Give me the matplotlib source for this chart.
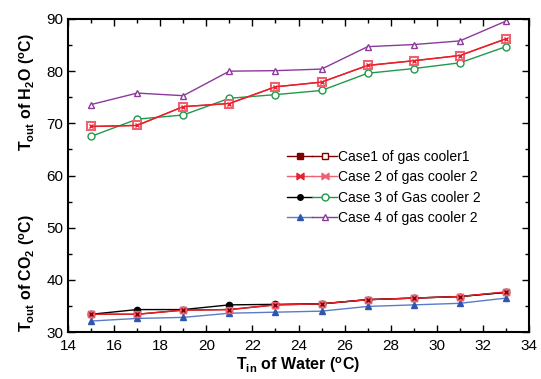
import matplotlib
matplotlib.use("Agg")
import matplotlib.pyplot as plt
from matplotlib.lines import Line2D
from matplotlib.legend_handler import HandlerTuple
from matplotlib.ticker import MultipleLocator

plt.rcParams['font.family'] = ['Liberation Sans', 'DejaVu Sans']
plt.rcParams['mathtext.fontset'] = 'custom'
plt.rcParams['mathtext.rm'] = 'Liberation Sans'
plt.rcParams['mathtext.bf'] = 'Liberation Sans:bold'
plt.rcParams['mathtext.default'] = 'bf'

t_water = [15, 17, 19, 21, 23, 25, 27, 29, 31, 33]

# CO2 outlet (lower, filled markers)
case1_co2 = [33.4, 33.4, 34.2, 34.3, 35.2, 35.4, 36.2, 36.5, 36.8, 37.6]
case2_co2 = [33.4, 33.4, 34.2, 34.3, 35.2, 35.4, 36.2, 36.5, 36.8, 37.7]
case3_co2 = [33.4, 34.3, 34.3, 35.2, 35.3, 35.4, 36.2, 36.5, 36.8, 37.6]
case4_co2 = [32.1, 32.6, 32.8, 33.6, 33.8, 34.0, 34.9, 35.2, 35.5, 36.5]

# H2O outlet (upper, open markers)
case1_h2o = [69.4, 69.6, 73.2, 73.8, 77.0, 77.9, 81.1, 82.0, 83.0, 86.2]
case2_h2o = [69.4, 69.6, 73.2, 73.8, 77.0, 77.9, 81.1, 82.0, 83.0, 86.2]
case3_h2o = [67.5, 70.8, 71.6, 74.8, 75.5, 76.3, 79.6, 80.5, 81.6, 84.7]
case4_h2o = [73.6, 75.8, 75.3, 80.0, 80.1, 80.4, 84.7, 85.1, 85.8, 89.6]

labels = ['Case1 of gas cooler1', 'Case 2 of gas cooler 2',
          'Case 3 of Gas cooler 2', 'Case 4 of gas cooler 2']

fig = plt.figure(figsize=(5.41, 3.79), dpi=100)
ax = fig.add_axes([68/541, 1-332/379, (529-68)/541, (332-19)/379])

c_dred = '#800000'
c_red = '#e8202a'
c_pink = '#f06070'
c_green = '#1f9a4a'
c_purple = '#8a3a9a'
c_blue = '#2e56b0'
c_lblue = '#5a7cc8'

ms = 5.0
lw = 1.0

# lower series
l1a, = ax.plot(t_water, case1_co2, color=c_dred, lw=lw, marker='s', ms=ms, mfc=c_dred, mec=c_dred)
l3a, = ax.plot(t_water, case3_co2, color='black', lw=lw, marker='o', ms=4.5, mfc='black', mec='black')
l4a, = ax.plot(t_water, case4_co2, color=c_lblue, lw=lw, marker='^', ms=ms, mfc=c_blue, mec=c_blue)
l2a, = ax.plot(t_water, case2_co2, color=c_red, lw=lw, marker='s', ms=ms, mfc=c_pink, mec=c_pink)
ax.plot(t_water, case2_co2, ls='none', marker='x', ms=3.2, mec=c_dred, mew=1.0)

# upper series
l4b, = ax.plot(t_water, case4_h2o, color=c_purple, lw=lw, marker='^', ms=ms, mfc='white', mec=c_purple)
l3b, = ax.plot(t_water, case3_h2o, color=c_green, lw=lw, marker='o', ms=ms, mfc='white', mec=c_green)
l1b, = ax.plot(t_water, case1_h2o, color=c_red, lw=lw, marker='s', ms=ms+0.5, mfc='white', mec=c_pink, mew=1.5)
l2b, = ax.plot(t_water, case2_h2o, color=c_red, lw=lw, marker='x', ms=3.2, mec=c_red, mew=1.0)

ax.set_xlim(14, 34)
ax.set_ylim(30, 90)
ax.xaxis.set_major_locator(MultipleLocator(2))
ax.xaxis.set_minor_locator(MultipleLocator(1))
ax.yaxis.set_major_locator(MultipleLocator(10))
ax.yaxis.set_minor_locator(MultipleLocator(5))
ax.tick_params(which='both', direction='in', top=True, right=True, labelsize=11, width=1.0)
ax.tick_params(which='major', length=5)
ax.tick_params(which='minor', length=3)
ax.tick_params(axis='x', pad=5)
for sp in ax.spines.values():
    sp.set_linewidth(1.5)

ax.set_xlabel(r'T$_{in}$ of Water ($^{o}$C)', fontsize=11.5, fontweight='bold', labelpad=2)

fig.text(27/541, 1-273/379, r'T$_{out}$ of CO$_2$ ($^{o}$C)', rotation=90, fontsize=11.5,
         fontweight='bold', ha='center', va='center')
fig.text(27/541, 1-92/379, r'T$_{out}$ of H$_2$O ($^{o}$C)', rotation=90, fontsize=11.5,
         fontweight='bold', ha='center', va='center')

# legend with paired handles
h1 = (Line2D([], [], color=c_dred, lw=lw, marker='s', ms=ms, mfc=c_dred, mec=c_dred),
      Line2D([], [], color=c_dred, lw=lw, marker='s', ms=ms, mfc='white', mec=c_dred))
h2 = (Line2D([], [], color=c_pink, lw=lw, marker=r'$\bowtie$', ms=ms, mfc=c_red, mec=c_red),
      Line2D([], [], color=c_pink, lw=lw, marker=r'$\bowtie$', ms=ms, mfc=c_pink, mec=c_pink))
h3 = (Line2D([], [], color='black', lw=lw, marker='o', ms=4, mfc='black', mec='black'),
      Line2D([], [], color=c_green, lw=lw, marker='o', ms=ms, mfc='white', mec=c_green))
h4 = (Line2D([], [], color=c_lblue, lw=lw, marker='^', ms=ms, mfc=c_blue, mec=c_blue),
      Line2D([], [], color=c_purple, lw=lw, marker='^', ms=ms, mfc='white', mec=c_purple))

ax.legend([h1, h2, h3, h4], labels,
          handler_map={tuple: HandlerTuple(ndivide=None, pad=0.0)},
          loc='upper left', bbox_to_anchor=((287-68)/(529-68), 1-(150-19)/(332-19)),
          frameon=False, fontsize=10, handlelength=3.6, handletextpad=0.1,
          labelspacing=0.45, borderpad=0.0, borderaxespad=0.0)

fig.savefig('out.png', dpi=100)
